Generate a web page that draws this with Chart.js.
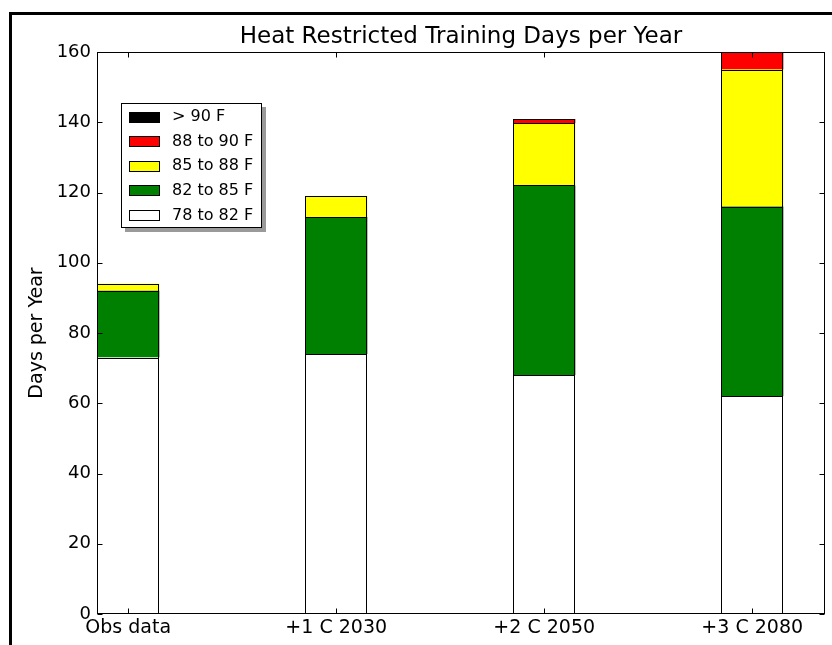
<!DOCTYPE html>
<html>
<head>
<meta charset="utf-8">
<script src="https://cdn.jsdelivr.net/npm/chart.js@4.4.1/dist/chart.umd.min.js"></script>
<style>
  html, body { margin: 0; padding: 0; background: #ffffff; }
  #wrap { position: relative; width: 832px; height: 645px; overflow: hidden; }
  #frame { position: absolute; left: 9px; top: 12px; width: 900px; height: 700px;
           border: 3px solid #000; box-sizing: border-box; pointer-events: none; }
</style>
</head>
<body>
<div id="wrap">
  <canvas id="c" width="832" height="645"></canvas>
  <div id="frame"></div>
</div>
<script>
const categories = ['Obs data', '+1 C 2030', '+2 C 2050', '+3 C 2080'];
const xPositions = [0, 1, 2, 3];
const band78to82 = [73, 74, 68, 62];
const band82to85 = [19, 39, 54, 54];
const band85to88 = [2, 6, 17.7, 39];
const band88to90 = [null, null, 1.2, 5];
const bandOver90 = [null, null, null, null];
const yTicks = [0, 20, 40, 60, 80, 100, 120, 140, 160];
const seriesLabels = ['78 to 82 F', '82 to 85 F', '85 to 88 F', '88 to 90 F', '> 90 F'];
const seriesColors = ['#ffffff', '#008000', '#ffff00', '#ff0000', '#000000'];
const seriesValues = [band78to82, band82to85, band85to88, band88to90, bandOver90];

const FONT = "'DejaVu Sans', sans-serif";

const datasets = seriesValues.map((vals, k) => ({
  label: seriesLabels[k],
  data: xPositions.map((x, i) => ({ x: x, y: vals[i] })),
  backgroundColor: seriesColors[k],
  borderColor: '#000000',
  borderWidth: 0,
  categoryPercentage: 1.0,
  barPercentage: 0.3
}));

const framePlugin = {
  id: 'framePlugin',
  afterDatasetsDraw(chart) {
    const { ctx, chartArea: a, scales } = chart;
    ctx.save();
    ctx.strokeStyle = '#000000';
    ctx.lineWidth = 1;
    const L = Math.round(a.left) + 0.5, R = Math.round(a.right) - 0.5;
    const T = Math.round(a.top) + 0.5, B = Math.round(a.bottom) - 0.5;
    // bar outlines, from the library's bar elements
    chart.data.datasets.forEach((d, k) => {
      const meta = chart.getDatasetMeta(k);
      meta.data.forEach((el, i) => {
        const raw = d.data[i].y;
        if (raw === null || raw === undefined) return;
        const p = el.getProps(['x', 'y', 'base', 'width'], true);
        const x0 = Math.round(p.x - p.width / 2) + 0.5;
        const x1 = Math.round(p.x + p.width / 2) - 0.5;
        let y0 = Math.round(Math.min(p.y, p.base)) + 0.5;
        let y1 = Math.round(Math.max(p.y, p.base)) + 0.5;
        y0 = Math.max(y0, T); y1 = Math.min(y1, B);
        ctx.strokeRect(x0, y0, x1 - x0, y1 - y0);
      });
    });
    ctx.strokeRect(L, T, R - L, B - T);
    const tl = 5;
    ctx.beginPath();
    yTicks.forEach(v => {
      const y = Math.round(scales.y.getPixelForValue(v)) + 0.5;
      ctx.moveTo(L, y); ctx.lineTo(L + tl, y);
      ctx.moveTo(R, y); ctx.lineTo(R - tl, y);
    });
    xPositions.forEach(v => {
      const x = Math.round(scales.x.getPixelForValue(v)) + 0.5;
      ctx.moveTo(x, B); ctx.lineTo(x, B - tl);
      ctx.moveTo(x, T); ctx.lineTo(x, T + tl);
    });
    ctx.stroke();
    ctx.restore();
  },
  afterDraw(chart) {
    const { ctx, chartArea: a } = chart;
    ctx.save();
    // title
    ctx.fillStyle = '#000000';
    ctx.font = '23px ' + FONT;
    ctx.textAlign = 'center';
    ctx.textBaseline = 'middle';
    ctx.fillText('Heat Restricted Training Days per Year', (a.left + a.right) / 2, 37);
    // legend
    const bx = a.left + 24, by = a.top + 51, bw = 141, bh = 125;
    ctx.fillStyle = '#9a9a9a';
    ctx.fillRect(bx + 4, by + 4, bw, bh);
    ctx.fillStyle = '#ffffff';
    ctx.fillRect(bx, by, bw, bh);
    ctx.strokeStyle = '#000000';
    ctx.lineWidth = 1;
    ctx.strokeRect(bx + 0.5, by + 0.5, bw - 1, bh - 1);
    const ds = chart.data.datasets.slice().reverse();
    ctx.font = '16px ' + FONT;
    ctx.textAlign = 'left';
    ds.forEach((d, i) => {
      const cy = by + 14 + i * 24.6;
      ctx.fillStyle = d.backgroundColor;
      ctx.fillRect(bx + 8, Math.round(cy - 5.5), 31, 11);
      ctx.strokeStyle = '#000000';
      ctx.strokeRect(bx + 8.5, Math.round(cy - 5.5) + 0.5, 30, 10);
      ctx.fillStyle = '#000000';
      ctx.fillText(d.label, bx + 51, cy);
    });
    ctx.restore();
  }
};

new Chart(document.getElementById('c'), {
  type: 'bar',
  data: { datasets: datasets },
  plugins: [framePlugin],
  options: {
    responsive: false,
    animation: false,
    layout: { padding: { top: 52, right: 7, left: 0, bottom: 0 } },
    plugins: { legend: { display: false }, title: { display: false }, tooltip: { enabled: false } },
    scales: {
      x: {
        type: 'linear',
        stacked: true,
        offset: false,
        min: -0.15,
        max: 3.35,
        grid: { display: false, drawTicks: false, offset: false },
        border: { display: false },
        afterBuildTicks: s => { s.ticks = xPositions.map(v => ({ value: v })); },
        afterFit: s => { s.height = 31; },
        ticks: {
          autoSkip: false,
          maxRotation: 0,
          padding: 3,
          color: '#000000',
          font: { family: FONT, size: 19 },
          callback: v => categories[v]
        }
      },
      y: {
        stacked: true,
        min: 0,
        max: 160,
        grid: { display: false, drawTicks: false },
        border: { display: false },
        afterBuildTicks: s => { s.ticks = yTicks.map(v => ({ value: v })); },
        afterFit: s => { s.width = 97; },
        ticks: {
          padding: 6,
          color: '#000000',
          font: { family: FONT, size: 18 }
        },
        title: {
          display: true,
          text: 'Days per Year',
          color: '#000000',
          font: { family: FONT, size: 19 },
          padding: { top: 26, bottom: 0 }
        }
      }
    }
  }
});
</script>
</body>
</html>
